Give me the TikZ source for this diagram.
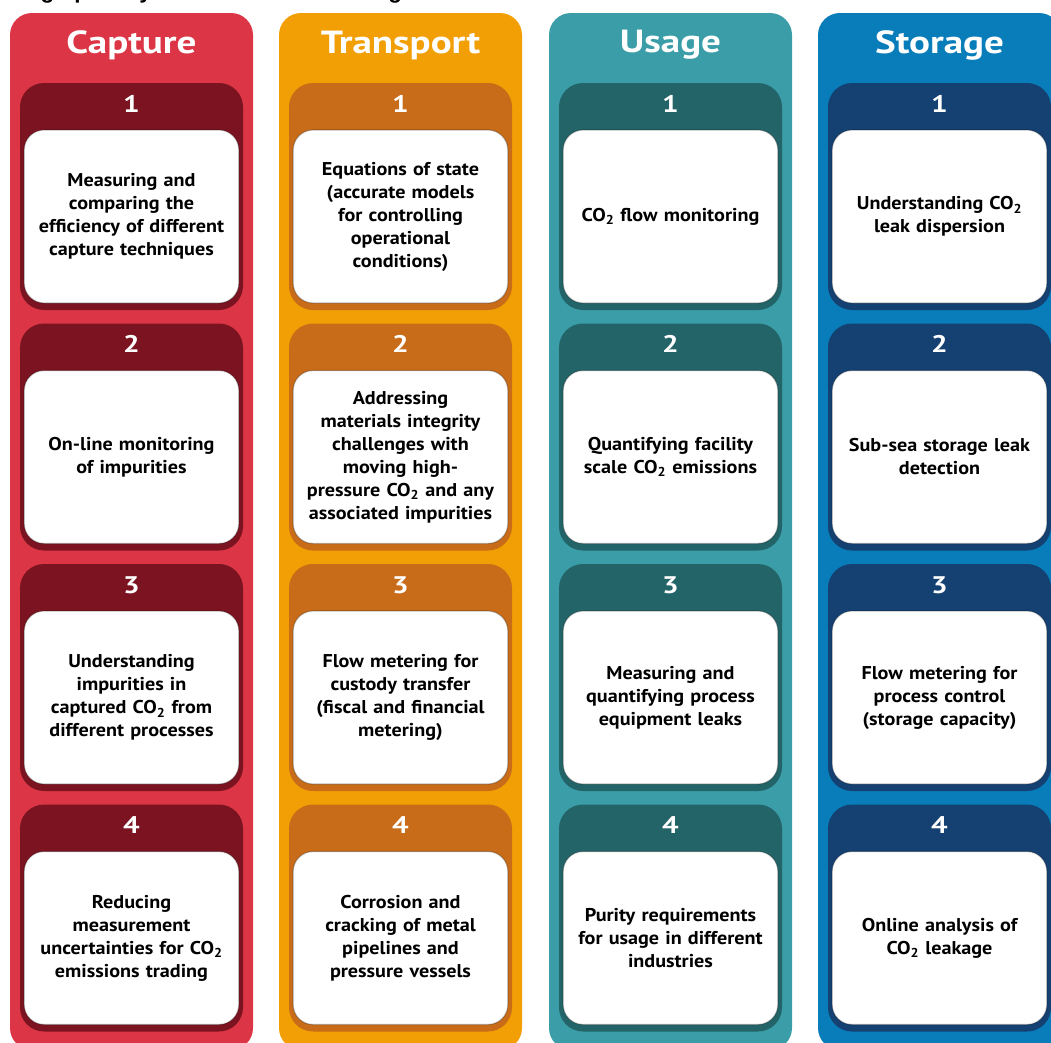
\documentclass[tikz,border=0pt]{standalone}
\usepackage{fontspec}
\usepackage{xcolor}
\usepackage{tikz}
\setmainfont{PT Sans}[FakeStretch=1.09]
\newfontfamily\headfont{PT Sans}[FakeStretch=1.22]
\newfontfamily\captionfont{Liberation Sans}
\newcommand{\cotwo}{CO\textsubscript{2}}

\definecolor{capred}{RGB}{220,54,70}
\definecolor{capdark}{RGB}{123,20,32}
\definecolor{trorange}{RGB}{242,159,5}
\definecolor{trdark}{RGB}{200,108,26}
\definecolor{usteal}{RGB}{58,157,168}
\definecolor{usdark}{RGB}{35,100,104}
\definecolor{stblue}{RGB}{8,125,185}
\definecolor{stdark}{RGB}{20,64,114}

\tikzstyle{column} = [rectangle, rounded corners=22pt, minimum width=243pt, minimum height=1037pt, inner sep=0pt]
\tikzstyle{heading} = [text=white, font=\headfont\bfseries\fontsize{32}{36}\selectfont]
\tikzstyle{panel} = [rectangle, rounded corners=24pt, minimum width=223pt, minimum height=227pt, inner sep=0pt]
\tikzstyle{numlabel} = [below, yshift=-9pt, text=white, font=\headfont\bfseries\fontsize{24}{28}\selectfont]
\tikzstyle{itembox} = [rectangle, rounded corners=20pt, minimum width=213pt, minimum height=173pt, yshift=-20pt, fill=white, draw=black, draw opacity=0.25, line width=1.2pt, text width=208pt, align=center, font=\bfseries\fontsize{18.5}{23}\selectfont]

\begin{document}
\begin{tikzpicture}[x=1pt, y=-1pt, node distance=240.5pt]

	\clip (0,0) rectangle (1051,1042);
	\node (caption) [anchor=base west, inner sep=0pt, font=\captionfont\bfseries\fontsize{22.5}{26}\selectfont] at (18,-1.5) {High priority measurement challenges};

	\foreach \col/\x/\light/\dark/\title in {capture/131.5/capred/capdark/Capture, transport/400.5/trorange/trdark/Transport, usage/670.5/usteal/usdark/Usage, storage/939.5/stblue/stdark/Storage}{
		\node (\col) [column, fill=\light] at (\x,531.5) {};
		\node (\col T) [heading] at (\x,45) {\title};
		\node (\col1) [panel, fill=\dark] at (\x,196.5) {};
		\node (\col2) [panel, fill=\dark, below of=\col1] {};
		\node (\col3) [panel, fill=\dark, below of=\col2] {};
		\node (\col4) [panel, fill=\dark, below of=\col3] {};
		\foreach \i in {1,...,4}
			\node (\col\i num) [numlabel] at (\col\i.north) {\i};
	}

	% capture
	\node (capture1txt) [itembox] at (capture1) {Measuring and\\comparing the\\efficiency of different\\capture techniques};
	\node (capture2txt) [itembox] at (capture2) {On-line monitoring\\of impurities};
	\node (capture3txt) [itembox] at (capture3) {Understanding\\impurities in\\captured \cotwo{} from\\different processes};
	\node (capture4txt) [itembox] at (capture4) {Reducing\\measurement\\uncertainties for \cotwo\\emissions trading};

	% transport
	\node (transport1txt) [itembox] at (transport1) {Equations of state\\(accurate models\\for controlling\\operational\\conditions)};
	\node (transport2txt) [itembox] at (transport2) {Addressing\\materials integrity\\challenges with\\moving high-\\pressure \cotwo{} and any\\associated impurities};
	\node (transport3txt) [itembox] at (transport3) {Flow metering for\\custody transfer\\(fiscal and financial\\metering)};
	\node (transport4txt) [itembox] at (transport4) {Corrosion and\\cracking of metal\\pipelines and\\pressure vessels};

	% usage
	\node (usage1txt) [itembox] at (usage1) {\cotwo{} flow monitoring};
	\node (usage2txt) [itembox] at (usage2) {Quantifying facility\\scale \cotwo{} emissions};
	\node (usage3txt) [itembox] at (usage3) {Measuring and\\quantifying process\\equipment leaks};
	\node (usage4txt) [itembox] at (usage4) {Purity requirements\\for usage in different\\industries};

	% storage
	\node (storage1txt) [itembox] at (storage1) {Understanding \cotwo\\leak dispersion};
	\node (storage2txt) [itembox] at (storage2) {Sub-sea storage leak\\detection};
	\node (storage3txt) [itembox] at (storage3) {Flow metering for\\process control\\(storage capacity)};
	\node (storage4txt) [itembox] at (storage4) {Online analysis of\\\cotwo{} leakage};

\end{tikzpicture}
\end{document}
